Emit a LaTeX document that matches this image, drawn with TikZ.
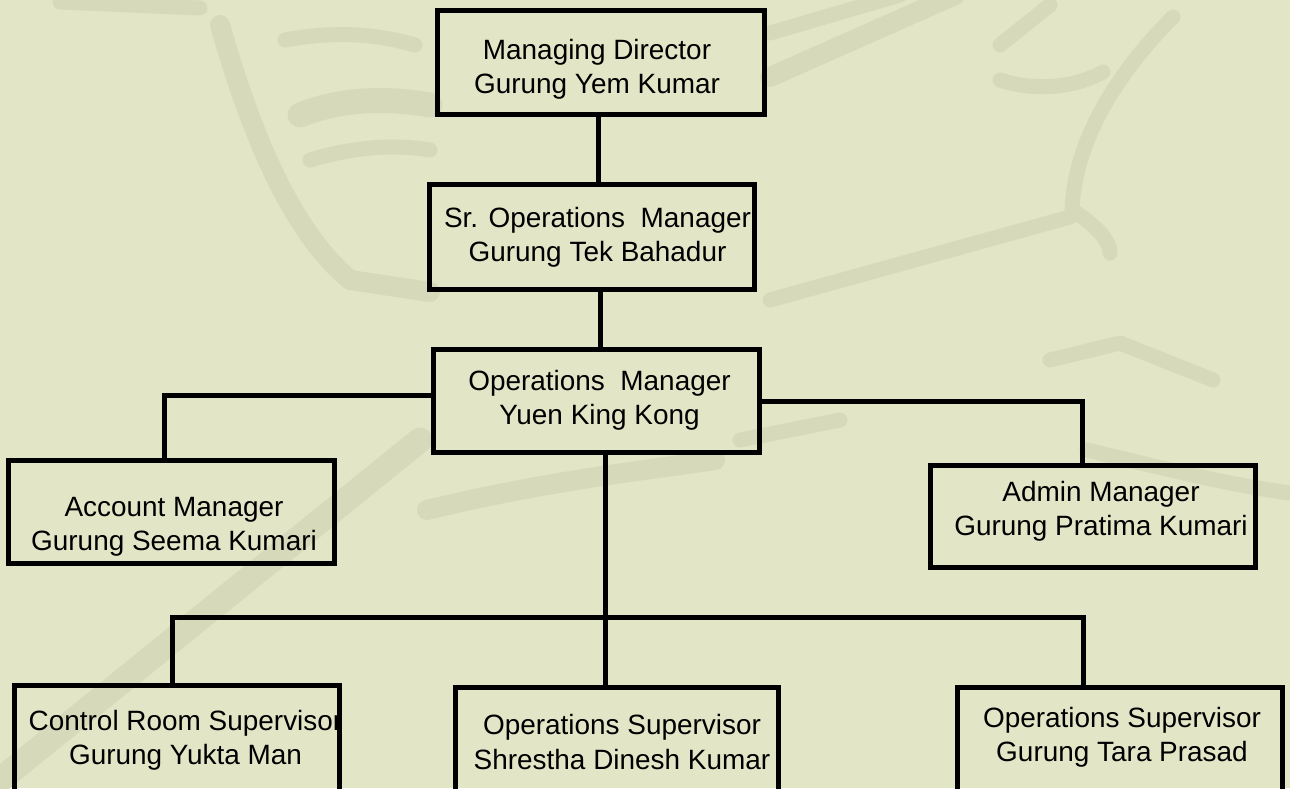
\documentclass[tikz,border=0pt]{standalone}
\usepackage{fontspec}
\setmainfont{Liberation Sans}

\definecolor{paper}{RGB}{227,230,198}
\definecolor{wm}{RGB}{215,218,186}

\tikzset{
  orgbox/.style={draw, line width=0.1cm, inner sep=0pt, minimum width=6.5cm},
  boxtext/.style={align=center, font=\fontsize{15.9pt}{19.6pt}\selectfont},
  link/.style={line width=0.1cm},
  brush/.style={wm, line width=0.3cm, line cap=round, line join=round},
}

\begin{document}
\begin{tikzpicture}[x=0.02cm, y=-0.02cm]
    \useasboundingbox (0,0) rectangle (1290,788);
    \fill[paper] (0,0) rectangle (1290,788);
    \clip (0,0) rectangle (1290,788);

    % faint watermark strokes
    \draw[brush] (60,2) -- (200,8);
    \draw[brush, line width=0.4cm] (220,25) .. controls (250,130) and (290,230) .. (350,280) -- (430,292);
    \draw[brush] (285,40) .. controls (340,30) and (380,35) .. (415,45);
    \draw[brush, line width=0.5cm] (300,115) .. controls (350,95) and (400,100) .. (430,105);
    \draw[brush] (310,160) .. controls (360,145) and (400,145) .. (430,150);
    \draw[brush] (770,33) -- (900,-5);
    \draw[brush, line width=0.4cm] (770,77) -- (955,-5);
    \draw[brush] (1000,45) -- (1050,5);
    \draw[brush] (1000,80) .. controls (1030,90) and (1070,90) .. (1103,72);
    \draw[brush] (1173,17) .. controls (1130,60) and (1075,130) .. (1072,210) .. controls (1095,225) and (1110,240) .. (1110,253);
    \draw[brush] (770,300) -- (1070,217);
    \draw[brush] (1050,360) -- (1120,343) -- (1213,380);
    \draw[brush, line width=0.5cm] (420,440) -- (0,780);
    \draw[brush, line width=0.4cm] (427,510) .. controls (550,480) and (650,470) .. (715,460);
    \draw[brush] (740,440) -- (840,420);
    \draw[brush] (1087,450) .. controls (1170,470) and (1230,485) .. (1290,493);

    % boxes
    \node[orgbox, minimum width=6.54cm, minimum height=2.08cm,
          label={[boxtext, xshift=-0.08cm, yshift=-0.13cm]center:{Managing Director\\Gurung Yem Kumar}}]
          (md) at (601,62.5) {};
    \node[orgbox, minimum height=2.1cm,
          label={[boxtext, xshift=0.11cm]center:{Sr. Operations\ \ Manager\\Gurung Tek Bahadur}}]
          (sr) at (592,237) {};
    \node[orgbox, minimum width=6.52cm, minimum height=2.06cm,
          label={[boxtext, xshift=0.06cm, yshift=0.02cm]center:{Operations\ \ Manager\\Yuen King Kong}}]
          (om) at (596.5,401) {};
    \node[orgbox, minimum width=6.52cm, minimum height=2.06cm,
          label={[boxtext, xshift=0.05cm, yshift=-0.3cm]center:{Account Manager\\Gurung Seema Kumari}}]
          (acc) at (171.5,512) {};
    \node[orgbox, minimum height=2.04cm,
          label={[boxtext, xshift=0.16cm, yshift=0.11cm]center:{Admin Manager\\Gurung Pratima Kumari}}]
          (adm) at (1093,516.5) {};
    \node[orgbox, minimum height=2.18cm,
          label={[boxtext, xshift=0.17cm]center:{Control Room Supervisor\\Gurung Yukta Man}}]
          (crs) at (177,740) {};
    \node[orgbox, minimum width=6.46cm, minimum height=2.18cm,
          label={[boxtext, xshift=0.1cm]center:{Operations Supervisor\\Shrestha Dinesh Kumar}}]
          (ops1) at (617,742) {};
    \node[orgbox, minimum height=2.18cm,
          label={[boxtext, xshift=0.04cm, yshift=0.09cm]center:{Operations Supervisor\\Gurung Tara Prasad}}]
          (ops2) at (1120,742) {};

    % connectors
    \coordinate (busL) at (172,617);
    \coordinate (busR) at (1083,617);
    \draw[link] ([xshift=-0.06cm]md.south) -- ([xshift=-0.06cm]md.south |- sr.north);
    \draw[link] ([xshift=0.07cm]om.north |- sr.south) -- ([xshift=0.07cm]om.north);
    \draw[link] ([yshift=0.12cm]om.west) -| ([xshift=-0.15cm]acc.north);
    \draw[link] (om.east) -| ([xshift=-0.22cm]adm.north);
    \draw[link] ([xshift=0.17cm]om.south) -- ([xshift=0.17cm]om.south |- ops1.north);
    \draw[link] (busL |- crs.north) -- (busL) -- (busR) -- (busR |- ops2.north);
\end{tikzpicture}
\end{document}
